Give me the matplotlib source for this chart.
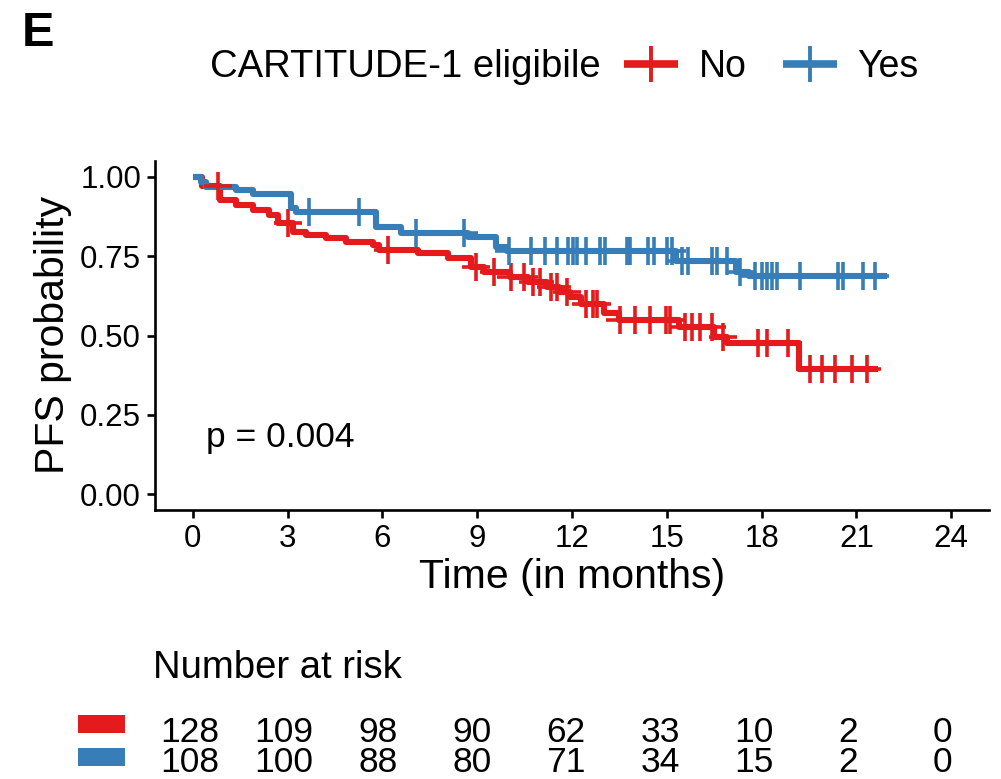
import numpy as np
import matplotlib
matplotlib.use("Agg")
import matplotlib.pyplot as plt
from matplotlib.lines import Line2D
from matplotlib.patches import Rectangle

plt.rcParams['font.family'] = ['Liberation Sans', 'DejaVu Sans']

# ---------------- data ----------------
groups = ["No", "Yes"]
colors = ["#E41A1C", "#377EB8"]

no_time = [0, 0.3, 0.85, 1.35, 1.9, 2.4, 2.7, 3.17, 3.57, 4.2, 4.84, 5.7, 5.9,
           7.12, 8.06, 8.8, 9.2, 10.05, 10.6, 11.2, 11.6, 11.95, 12.3, 13.0,
           13.5, 15.4, 16.5, 16.9, 19.2, 21.7]
no_surv = [1.0, 0.972, 0.927, 0.912, 0.896, 0.88, 0.855, 0.827, 0.817, 0.807,
           0.795, 0.785, 0.77, 0.76, 0.744, 0.716, 0.70, 0.685, 0.669, 0.653,
           0.637, 0.62, 0.60, 0.57, 0.549, 0.527, 0.495, 0.476, 0.395, 0.395]
no_cens = [0.79, 3.0, 6.17, 8.95, 9.52, 10.06, 10.47, 10.75, 11.0, 11.32, 11.54,
           11.83, 12.43, 12.65, 12.8, 13.53, 14.0, 14.47, 14.96, 15.11, 15.59,
           15.81, 16.06, 16.44, 16.79, 17.9, 18.18, 18.85, 19.54, 19.92, 20.33,
           20.87, 21.34]

yes_time = [0, 0.25, 0.4, 1.36, 1.9, 3.1, 3.26, 5.8, 6.6, 8.7, 9.6, 9.95, 15.3,
            17.2, 17.6, 21.97]
yes_surv = [1.0, 0.985, 0.968, 0.959, 0.946, 0.902, 0.89, 0.842, 0.823, 0.811,
            0.779, 0.765, 0.735, 0.70, 0.688, 0.688]
yes_cens = [3.67, 5.25, 7.05, 8.57, 9.99, 10.69, 11.16, 11.54, 11.86, 12.02,
            12.17, 12.43, 12.9, 13.06, 13.75, 13.85, 14.39, 14.58, 15.02, 15.18,
            15.49, 15.68, 16.44, 16.6, 16.91, 17.33, 17.8, 18.02, 18.18, 18.34,
            18.5, 19.23, 20.43, 20.59, 21.22, 21.6]

risk_times = [0, 3, 6, 9, 12, 15, 18, 21, 24]
risk_no = [128, 109, 98, 90, 62, 33, 10, 2, 0]
risk_yes = [108, 100, 88, 80, 71, 34, 15, 2, 0]

x_ticks = [0, 3, 6, 9, 12, 15, 18, 21, 24]
y_ticks = [0.0, 0.25, 0.5, 0.75, 1.0]
p_text = "p = 0.004"

# ---------------- figure ----------------
W, H = 1001, 779
fig = plt.figure(figsize=(W / 100, H / 100), dpi=100)


def fx(px):
    return px / W


def fy(py):
    return 1 - py / H


ax = fig.add_axes([fx(155), fy(510), fx(989) - fx(155), fy(161) - fy(510)])

curves = [(no_time, no_surv, no_cens), (yes_time, yes_surv, yes_cens)]
for (t, s, c), col in zip(curves, colors):
    t = np.asarray(t)
    s = np.asarray(s)
    ax.step(t, s, where='post', color=col, lw=4.4, solid_capstyle='butt',
            zorder=3)
    c = np.asarray(c)
    idx = np.searchsorted(t, c, side='right') - 1
    ax.plot(c, s[idx], ls='none', marker='+', ms=20, mew=2.6, color=col,
            zorder=4)

ax.set_xlim(-1.2, 25.2)
ax.set_ylim(-0.05, 1.05)
ax.set_xticks(x_ticks)
ax.set_xticklabels([str(v) for v in x_ticks])
ax.set_yticks(y_ticks)
ax.set_yticklabels([f"{v:.2f}" for v in y_ticks])
for sp in ['top', 'right']:
    ax.spines[sp].set_visible(False)
for sp in ['left', 'bottom']:
    ax.spines[sp].set_linewidth(1.9)
ax.tick_params(axis='both', length=6, width=1.9, labelsize=22.5, pad=4,
               colors='black')
ax.set_xlabel("Time (in months)", fontsize=29.5, labelpad=3)
ax.set_ylabel("PFS probability", fontsize=29.5, labelpad=6)
ax.text(0.41, 0.18, p_text, fontsize=25.5, va='center', ha='left')

# legend
fig.text(fx(210), fy(67), "CARTITUDE-1 eligibile", fontsize=27.5,
         va='center', ha='left')
handles = [Line2D([0], [0], color=col, lw=5.5, marker='+', ms=26, mew=2.8,
                  markevery=[1], solid_capstyle='butt')
           for col in colors]
for h in handles:
    h.set_data([0, 0.5, 1], [0, 0, 0])
leg = fig.legend(handles, groups, loc='center left',
                 bbox_to_anchor=(fx(624), fy(67)), ncol=2, frameon=False,
                 fontsize=27, handlelength=1.45, handletextpad=0.55,
                 columnspacing=0.95, borderpad=0, borderaxespad=0)

# panel letter
fig.text(fx(22), fy(34), "E", fontsize=35, fontweight='bold',
         va='center', ha='left')

# risk table
tax = fig.add_axes([fx(152.4), fy(778), fx(979.6) - fx(152.4), fy(700) - fy(778)])
tax.set_xlim(-1.2, 25.2)
tax.set_ylim(0, 78)
tax.axis('off')
for vals, yrow in [(risk_no, 778 - 732), (risk_yes, 778 - 763)]:
    for tt, v in zip(risk_times, vals):
        tax.text(tt, yrow, str(v), fontsize=25.5, ha='center', va='center')

fig.text(fx(153), fy(668), "Number at risk", fontsize=27.5, va='center',
         ha='left')
for col, (y0, y1) in zip(colors, [(715, 733), (748, 766)]):
    fig.patches.append(Rectangle((fx(78), fy(y1)), fx(125) - fx(78),
                                 fy(y0) - fy(y1), transform=fig.transFigure,
                                 facecolor=col, edgecolor='none'))

fig.savefig("out.png", dpi=100)
